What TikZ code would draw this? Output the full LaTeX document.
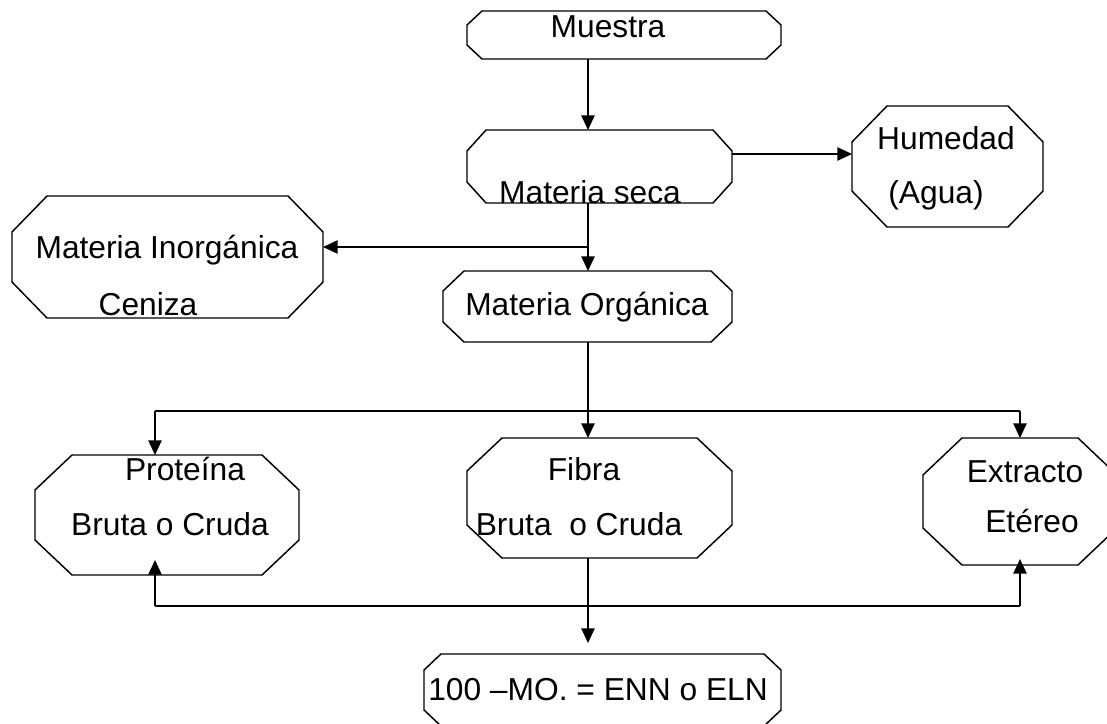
\documentclass[tikz,border=0pt]{standalone}
\usepackage{fontspec}
\setmainfont{Liberation Sans}
\usetikzlibrary{arrows.meta}
\tikzset{
  lbl/.style={inner sep=0pt, anchor=base, font=\fontsize{23.8pt}{28pt}\selectfont},
  frame/.style={draw=none, inner sep=0pt, outer sep=0pt, rectangle},
  edge/.style={line width=1.1pt},
  arr/.style={edge, -{Triangle[length=11pt,width=10pt]}},
}
\newcommand\octbox[7]{%
  \node[frame, minimum width={(#4-#2)*0.75pt}, minimum height={(#5-#3)*0.75pt}] (#1) at ({(#2+#4)/2},{(#3+#5)/2}) {};
  \draw[edge, line join=miter]
    ([xshift={#6*0.75pt}]#1.north west) -- ([xshift={-#6*0.75pt}]#1.north east)
    -- ([yshift={-#7*0.75pt}]#1.north east) -- ([yshift={#7*0.75pt}]#1.south east)
    -- ([xshift={-#6*0.75pt}]#1.south east) -- ([xshift={#6*0.75pt}]#1.south west)
    -- ([yshift={#7*0.75pt}]#1.south west) -- ([yshift={-#7*0.75pt}]#1.north west) -- cycle;
}
\begin{document}
\begin{tikzpicture}[x=0.75pt,y=-0.75pt]
\useasboundingbox (0,0) rectangle (1107,724);
% boxes
\octbox{muestra}{467}{11}{781}{59}{15}{14}
\octbox{mseca}{467}{130}{732}{203}{19}{21}
\octbox{humedad}{852}{106}{1043}{227}{35}{36}
\octbox{minorg}{12}{196}{323}{318}{35}{36}
\octbox{morg}{443}{271}{732}{342}{21}{20}
\octbox{prot}{35}{455}{299}{575}{37}{35}
\octbox{fibra}{467}{438}{732}{558}{35}{33}
\octbox{extr}{923}{438}{1117}{565}{39}{37}
\octbox{enn}{424}{654}{781}{726}{17}{16}
% texts
\node[lbl] (tMuestra) at (608,38) {Muestra};
\node[lbl] (tSeca) at (590,203) {Materia seca};
\node[lbl] (tHum1) at (946,149) {Humedad};
\node[lbl] (tHum2) at (936,203) {(Agua)};
\node[lbl] (tIn1) at (167,258) {Materia Inorgánica};
\node[lbl] (tIn2) at (148,315) {Ceniza};
\node[lbl] (tOrg) at (587,315) {Materia Orgánica};
\node[lbl] (tP1) at (185,480) {Proteína};
\node[lbl] (tP2) at (170,535) {Bruta o Cruda};
\node[lbl] (tF1) at (584,480) {Fibra};
\node[lbl] (tF2) at (579,535) {Bruta~ o Cruda};
\node[lbl] (tE1) at (1025,482) {Extracto};
\node[lbl] (tE2) at (1032,532) {Etéreo};
\node[lbl, anchor=base west] (tENN) at (428,700) {100 –MO. = ENN o ELN};
% helper coordinates
\coordinate (tx) at (588,0);
\coordinate (lx) at (155,0);
\coordinate (rx) at (1020,0);
\coordinate (yHum) at (0,154);
\coordinate (yInorg) at (0,247);
\coordinate (yTop) at (0,411);
\coordinate (yBot) at (0,606);
\coordinate (yEnd) at (0,643);
\coordinate (protIn) at ([yshift=11.25pt]prot.south);
\coordinate (extrIn) at ([yshift=4.5pt]extr.south);
% connectors
\draw[arr] (muestra.south -| tx) -- (mseca.north -| tx);
\draw[arr] (mseca.east |- yHum) -- (humedad.west |- yHum);
\draw[arr] (mseca.south -| tx) -- (morg.north -| tx);
\draw[arr] (tx |- yInorg) -- (minorg.east |- yInorg);
\draw[edge] (morg.south -| tx) -- (tx |- yTop);
\draw[edge] (lx |- yTop) -- (rx |- yTop);
\draw[arr] (lx |- yTop) -- (prot.north -| lx);
\draw[arr] (tx |- yTop) -- (fibra.north -| tx);
\draw[arr] (rx |- yTop) -- (extr.north -| rx);
\draw[edge] (lx |- yBot) -- (rx |- yBot);
\draw[arr] (lx |- yBot) -- (protIn -| lx);
\draw[arr] (rx |- yBot) -- (extrIn -| rx);
\draw[arr] (fibra.south -| tx) -- (tx |- yEnd);
\end{tikzpicture}
\end{document}
